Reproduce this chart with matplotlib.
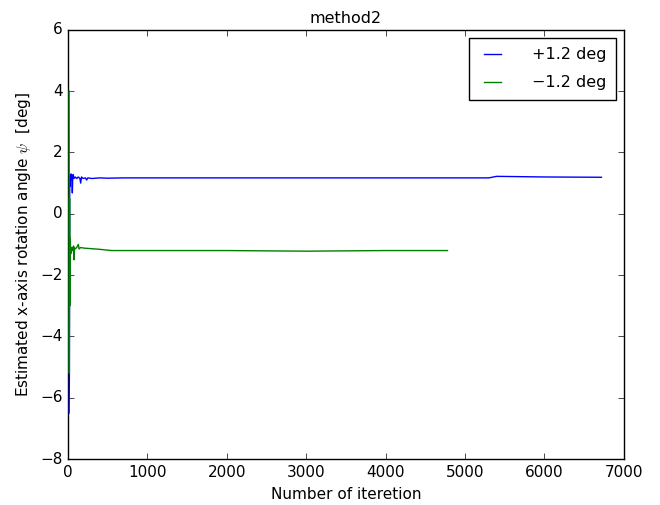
import matplotlib
matplotlib.use("Agg")
import matplotlib.pyplot as plt

plt.style.use("classic")

# +1.2 deg run
pos_iter = [14, 18, 22, 26, 30, 34, 38, 42, 48, 55, 60, 65, 75, 90, 110, 130, 150,
            160, 170, 190, 220, 235, 250, 300, 400, 500, 700, 1000, 3000, 5300,
            5400, 6000, 6720]
pos_psi = [-6.5, -5.2, 1.2, 0.9, 1.25, 1.1, 1.3, 1.15, 1.2, 0.68, 1.2, 1.28, 1.15,
           1.2, 1.15, 1.2, 1.15, 1.0, 1.2, 1.15, 1.17, 1.1, 1.17, 1.15, 1.17, 1.16,
           1.17, 1.17, 1.17, 1.17, 1.22, 1.2, 1.19]

# -1.2 deg run
neg_iter = [14, 17, 20, 24, 28, 32, 40, 50, 60, 70, 75, 80, 90, 110, 130, 140, 160,
            200, 300, 400, 550, 1000, 2000, 3000, 4000, 4780]
neg_psi = [4.0, -5.2, 0.5, -3.0, -0.8, -1.1, -1.3, -1.1, -1.2, -1.05, -1.5, -1.1,
           -1.15, -1.1, -1.0, -1.15, -1.1, -1.12, -1.14, -1.16, -1.2, -1.2, -1.2,
           -1.22, -1.2, -1.2]

fig = plt.figure(figsize=(6.6, 5.05), dpi=100, facecolor="white")
ax = fig.add_axes([0.103, 0.091, 0.842, 0.85])

ax.plot(pos_iter, pos_psi, color="b", lw=1, label="+1.2 deg", zorder=3)
ax.plot(neg_iter, neg_psi, color="g", lw=1, label="\u22121.2 deg", zorder=3)

ax.set_xlim(0, 7000)
ax.set_ylim(-8, 6)
ax.tick_params(labelsize=11)
ax.set_title("method2", fontsize=11.5)
ax.set_xlabel("Number of iteretion", fontsize=11)
ax.set_ylabel(r"Estimated x-axis rotation angle $\psi$  [deg]", fontsize=11)
ax.legend(loc="upper right", fontsize=11.5, borderpad=0.6, labelspacing=0.8,
          handlelength=1.7, handletextpad=1.6)

fig.savefig("out.png", dpi=100, facecolor="white")
